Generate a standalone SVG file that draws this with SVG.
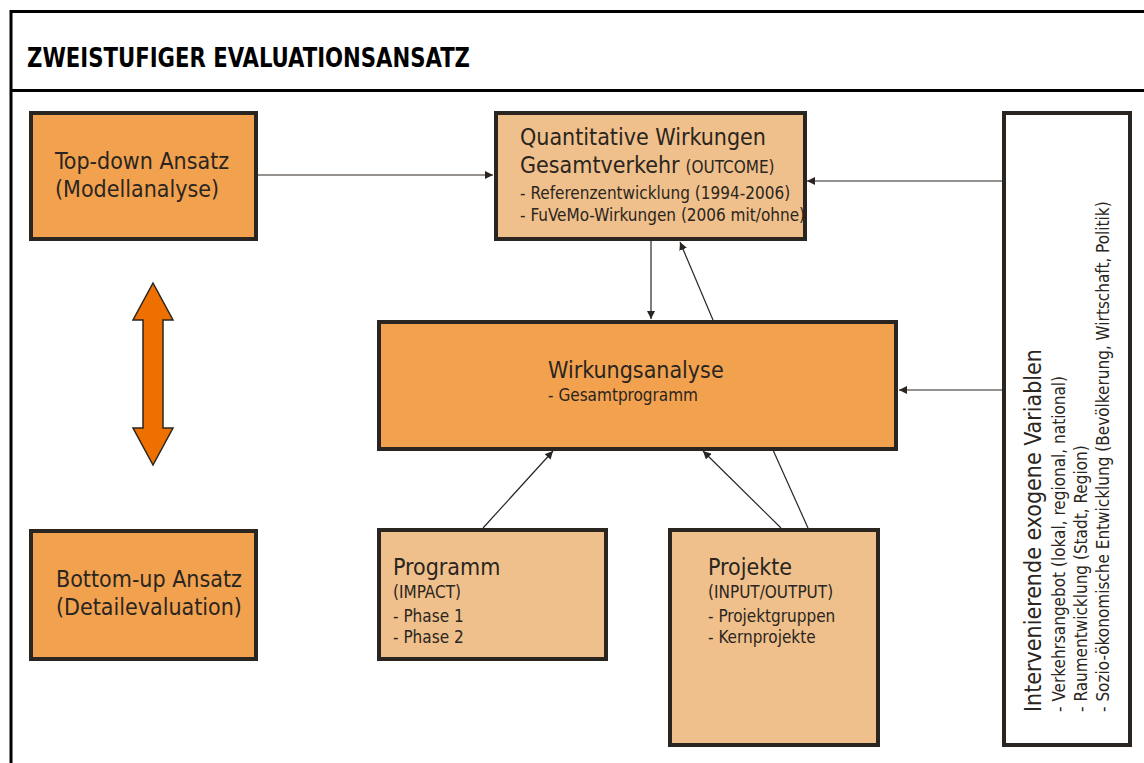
<svg xmlns="http://www.w3.org/2000/svg" width="1144" height="763" viewBox="0 0 1144 763">
<defs>
<style>
.frame{fill:none;stroke:#000;stroke-width:3}
.box{stroke:#2a2520;stroke-width:4}
.dark{fill:#F2A24F}
.light{fill:#EFC08B}
.white{fill:#fff}
.t{font-family:"Liberation Sans Narrow","DejaVu Sans Condensed","Liberation Sans",sans-serif;fill:#2a2520}
.big{font-size:23px}
.mid{font-size:17px}
.title{font-family:"Liberation Sans Narrow","DejaVu Sans Condensed","Liberation Sans",sans-serif;font-weight:bold;font-size:27px;fill:#000}
.con{stroke:#2a2520;stroke-width:1.2;fill:none}
</style>
<marker id="ah" viewBox="0 0 10 10" refX="10" refY="5" markerWidth="8" markerHeight="8" markerUnits="userSpaceOnUse" orient="auto">
<path d="M0,0 L10,5 L0,10 z" fill="#2a2520"/>
</marker>
</defs>
<rect width="1144" height="763" fill="#fff"/>
<g id="frame">
<path class="frame" d="M11,770 V11.5 H1150"/>
<line class="frame" x1="11" y1="90.5" x2="1150" y2="90.5"/>
<text class="title" x="27" y="67" textLength="443" lengthAdjust="spacingAndGlyphs">ZWEISTUFIGER EVALUATIONSANSATZ</text>
</g>
<g id="connectors">
<line class="con" x1="258" y1="175" x2="493" y2="175" marker-end="url(#ah)"/>
<line class="con" x1="1002" y1="181" x2="807" y2="181" marker-end="url(#ah)"/>
<line class="con" x1="1002" y1="390" x2="899" y2="390" marker-end="url(#ah)"/>
<line class="con" x1="651" y1="241" x2="651" y2="319" marker-end="url(#ah)"/>
<line class="con" x1="713" y1="320" x2="680" y2="242" marker-end="url(#ah)"/>
<line class="con" x1="483" y1="528" x2="553" y2="451" marker-end="url(#ah)"/>
<line class="con" x1="781" y1="528" x2="703" y2="451" marker-end="url(#ah)"/>
<line class="con" x1="808" y1="528" x2="773" y2="450"/>
</g>
<g id="double-arrow">
<path d="M153,283 L173,320 L163,320 L163,428 L173,428 L153,465 L133,428 L143,428 L143,320 L133,320 Z" fill="#EE7000" stroke="#2a2520" stroke-width="1.5"/>
</g>
<g id="topdown">
<rect class="box dark" x="31" y="113" width="225" height="126"/>
<text class="t big" x="55" y="169">Top-down Ansatz</text>
<text class="t big" x="55" y="197">(Modellanalyse)</text>
</g>
<g id="bottomup">
<rect class="box dark" x="31" y="531" width="225" height="128"/>
<text class="t big" x="56" y="587">Bottom-up Ansatz</text>
<text class="t big" x="56" y="615">(Detailevaluation)</text>
</g>
<g id="quantitative">
<rect class="box light" x="496" y="113" width="309" height="126"/>
<text class="t big" x="520" y="145">Quantitative Wirkungen</text>
<text class="t" x="520" y="173"><tspan class="big">Gesamtverkehr</tspan><tspan class="mid" dx="6">(OUTCOME)</tspan></text>
<text class="t mid" x="520" y="199">- Referenzentwicklung (1994-2006)</text>
<text class="t mid" x="520" y="221">- FuVeMo-Wirkungen (2006 mit/ohne)</text>
</g>
<g id="wirkungsanalyse">
<rect class="box dark" x="379" y="322" width="517" height="127"/>
<text class="t big" x="548" y="378">Wirkungsanalyse</text>
<text class="t mid" x="548" y="401">- Gesamtprogramm</text>
</g>
<g id="programm">
<rect class="box light" x="379" y="530" width="227" height="129"/>
<text class="t big" x="393" y="575">Programm</text>
<text class="t mid" x="393" y="598">(IMPACT)</text>
<text class="t mid" x="393" y="622">- Phase 1</text>
<text class="t mid" x="393" y="643">- Phase 2</text>
</g>
<g id="projekte">
<rect class="box light" x="670" y="530" width="208" height="215"/>
<text class="t big" x="708" y="575">Projekte</text>
<text class="t mid" x="708" y="598">(INPUT/OUTPUT)</text>
<text class="t mid" x="708" y="622">- Projektgruppen</text>
<text class="t mid" x="708" y="643">- Kernprojekte</text>
</g>
<g id="exogene">
<rect class="box white" x="1004" y="113" width="126" height="632"/>
<text class="t big" transform="translate(1041,712) rotate(-90)">Intervenierende exogene Variablen</text>
<text class="t mid" transform="translate(1065,712) rotate(-90)">- Verkehrsangebot (lokal, regional, national)</text>
<text class="t mid" transform="translate(1087,712) rotate(-90)">- Raumentwicklung (Stadt, Region)</text>
<text class="t mid" transform="translate(1109,712) rotate(-90)">- Sozio-ökonomische Entwicklung (Bevölkerung, Wirtschaft, Politik)</text>
</g>
</svg>
